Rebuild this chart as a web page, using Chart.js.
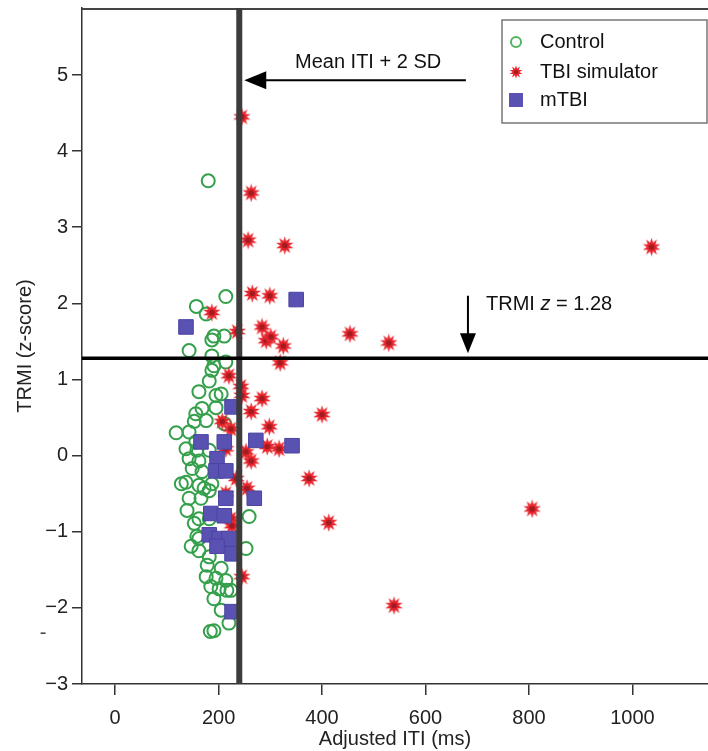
<!DOCTYPE html>
<html>
<head>
<meta charset="utf-8">
<title>TRMI vs adjusted ITI</title>
<script src="https://cdn.jsdelivr.net/npm/chart.js@4.4.0/dist/chart.umd.min.js"></script>
<style>
  html, body { margin: 0; padding: 0; background: #fff; }
</style>
</head>
<body>
<canvas id="myChart" width="708" height="751"></canvas>
<script>
'use strict';

var FONT = '"Liberation Sans", Arial, Helvetica, sans-serif';

// axis ticks
var xTicks = [0, 200, 400, 600, 800, 1000];
var yTicks = [-3, -2, -1, 0, 1, 2, 3, 4, 5];
var seriesNames = ['Control', 'TBI simulator', 'mTBI'];

// cut-offs
var itiCutoff = 240;   // mean ITI + 2 SD
var trmiCutoff = 1.28; // TRMI z

// [adjusted ITI (ms), TRMI z-score]
var controlPoints = [
    [180, 3.61], [214, 2.09], [157, 1.96], [176, 1.86], [191, 1.57], [211, 1.57],
    [187, 1.52], [143, 1.38], [187, 1.31], [214, 1.23], [191, 1.18], [187, 1.12],
    [182, 0.98], [162, 0.84], [195, 0.79], [205, 0.81], [168, 0.62], [195, 0.63],
    [156, 0.55], [153, 0.45], [176, 0.46], [211, 0.42], [118, 0.30], [143, 0.31],
    [156, 0.18], [137, 0.09], [158, 0.07], [182, 0.07], [143, -0.04], [162, -0.07],
    [149, -0.17], [168, -0.21], [137, -0.35], [128, -0.37], [162, -0.39], [187, -0.37],
    [172, -0.43], [182, -0.46], [143, -0.56], [166, -0.56], [139, -0.72], [162, -0.83],
    [182, -0.83], [153, -0.89], [259, -0.80], [158, -1.06], [162, -1.09], [147, -1.19],
    [253, -1.22], [162, -1.25], [182, -1.33], [178, -1.44], [205, -1.48], [176, -1.59],
    [195, -1.61], [214, -1.64], [185, -1.72], [201, -1.75], [216, -1.77], [224, -1.77],
    [191, -1.88], [205, -2.03], [220, -2.20], [191, -2.30], [184, -2.31]
];

var simulatorPoints = [
    [245, 4.45], [263, 3.45], [257, 2.83], [328, 2.76], [1037, 2.74], [265, 2.13],
    [299, 2.10], [187, 1.88], [236, 1.63], [284, 1.69], [292, 1.51], [301, 1.56],
    [325, 1.44], [454, 1.60], [529, 1.48], [319, 1.22], [220, 1.05], [243, 0.91],
    [245, 0.79], [284, 0.75], [263, 0.58], [207, 0.45], [224, 0.35], [298, 0.38],
    [400, 0.54], [317, 0.09], [294, 0.12], [214, 0.09], [253, 0.05], [263, -0.07],
    [234, -0.30], [255, -0.43], [214, -0.50], [224, -0.83], [226, -0.92], [245, -1.59],
    [375, -0.30], [413, -0.88], [806, -0.70], [539, -1.97]
];

var mtbiPoints = [
    [137, 1.69], [350, 2.05], [226, 0.64], [166, 0.18], [211, 0.18], [272, 0.20],
    [342, 0.13], [197, -0.04], [195, -0.20], [214, -0.20], [214, -0.56], [269, -0.56],
    [185, -0.76], [211, -0.79], [182, -1.04], [201, -1.09], [220, -1.09], [197, -1.19],
    [226, -1.29], [226, -2.05]
];

function makeStar(d) {
    var c = document.createElement('canvas');
    c.width = c.height = d;
    var g = c.getContext('2d');
    var r = d / 2, n = 10;
    g.beginPath();
    for (var i = 0; i < n * 2; i++) {
        var rad = i % 2 ? r * 0.5 : r - 0.3;
        var a = Math.PI * i / n - Math.PI / 2;
        g.lineTo(r + rad * Math.cos(a), r + rad * Math.sin(a));
    }
    g.closePath();
    g.fillStyle = '#e8262d';
    g.fill();
    g.beginPath();
    g.arc(r, r, r * 0.3, 0, Math.PI * 2);
    g.fillStyle = '#a31b22';
    g.fill();
    return c;
}

var starImg = makeStar(19);
var starSmall = makeStar(14);

function arrowHead(ctx, tx, ty, dir, len, half) {
    ctx.beginPath();
    ctx.moveTo(tx, ty);
    if (dir === 'left') {
        ctx.lineTo(tx + len, ty - half);
        ctx.lineTo(tx + len, ty + half);
    } else {
        ctx.lineTo(tx - half, ty - len);
        ctx.lineTo(tx + half, ty - len);
    }
    ctx.closePath();
    ctx.fill();
}

// cut-off lines, frame top, arrows and notes
var guides = {
    id: 'guides',
    afterDatasetsDraw: function(chart) {
        var ctx = chart.ctx, a = chart.chartArea;
        var xs = chart.scales.x, ys = chart.scales.y;
        ctx.save();

        ctx.strokeStyle = '#444';
        ctx.lineWidth = 2;
        ctx.beginPath();
        ctx.moveTo(a.left, a.top + 1);
        ctx.lineTo(a.right, a.top + 1);
        ctx.stroke();

        var vx = xs.getPixelForValue(itiCutoff);
        ctx.strokeStyle = '#3c3c3c';
        ctx.lineWidth = 6;
        ctx.beginPath();
        ctx.moveTo(vx, a.top);
        ctx.lineTo(vx, a.bottom);
        ctx.stroke();

        var hy = ys.getPixelForValue(trmiCutoff);
        ctx.strokeStyle = '#000';
        ctx.lineWidth = 3.5;
        ctx.beginPath();
        ctx.moveTo(a.left, hy);
        ctx.lineTo(a.right, hy);
        ctx.stroke();

        // arrow to the ITI line
        ctx.fillStyle = '#000';
        ctx.strokeStyle = '#000';
        ctx.lineWidth = 2;
        var ay = ys.getPixelForValue(4.93);
        var tipX = vx + 5;
        ctx.beginPath();
        ctx.moveTo(xs.getPixelForValue(678), ay);
        ctx.lineTo(tipX + 15, ay);
        ctx.stroke();
        arrowHead(ctx, tipX, ay, 'left', 22, 9);

        // arrow to the TRMI line
        var axp = xs.getPixelForValue(682);
        var tipY = hy - 5;
        ctx.beginPath();
        ctx.moveTo(axp, ys.getPixelForValue(2.1));
        ctx.lineTo(axp, tipY - 15);
        ctx.stroke();
        arrowHead(ctx, axp, tipY, 'down', 20, 8);

        ctx.fillStyle = '#111';
        ctx.font = '20px ' + FONT;
        ctx.textBaseline = 'middle';
        ctx.textAlign = 'center';
        ctx.fillText('Mean ITI + 2 SD', xs.getPixelForValue(489), ys.getPixelForValue(5.17));

        ctx.textAlign = 'left';
        var tx = xs.getPixelForValue(717), ty = ys.getPixelForValue(1.99);
        var p1 = 'TRMI ', p2 = 'z', p3 = ' = 1.28';
        ctx.fillText(p1, tx, ty);
        tx += ctx.measureText(p1).width;
        ctx.font = 'italic 20px ' + FONT;
        ctx.fillText(p2, tx, ty);
        tx += ctx.measureText(p2).width;
        ctx.font = '20px ' + FONT;
        ctx.fillText(p3, tx, ty);

        // stray dash left of the axis
        ctx.fillStyle = '#444';
        ctx.textAlign = 'center';
        ctx.fillText('-', 43, ys.getPixelForValue(-2.34));
        ctx.restore();
    }
};

var boxLegend = {
    id: 'boxLegend',
    afterDraw: function(chart) {
        var ctx = chart.ctx;
        var left = 502, top = 20, w = 205, h = 103;
        ctx.save();
        ctx.fillStyle = '#fff';
        ctx.fillRect(left, top, w, h);
        ctx.strokeStyle = '#777';
        ctx.lineWidth = 1.5;
        ctx.strokeRect(left, top, w, h);

        var rows = [42, 72, 100];
        chart.data.datasets.forEach(function(ds, i) {
            var y = rows[i], mx = 516;
            if (i === 0) {
                ctx.strokeStyle = '#52b45e';
                ctx.lineWidth = 2;
                ctx.beginPath();
                ctx.arc(mx, y, 5, 0, Math.PI * 2);
                ctx.stroke();
            } else if (i === 1) {
                ctx.drawImage(starSmall, mx - 7, y - 7);
            } else {
                ctx.fillStyle = ds.backgroundColor;
                ctx.fillRect(mx - 7, y - 7, 14, 14);
            }
            ctx.fillStyle = '#111';
            ctx.font = '20px ' + FONT;
            ctx.textAlign = 'left';
            ctx.textBaseline = 'middle';
            ctx.fillText(ds.label, 540, y);
        });
        ctx.restore();
    }
};

var ctx = document.getElementById('myChart').getContext('2d');
var myChart = new Chart(ctx, {
    type: 'scatter',
    data: {
        datasets: [{
            label: seriesNames[0],
            data: controlPoints,
            pointStyle: 'circle',
            pointRadius: 6.5,
            borderWidth: 2,
            borderColor: '#35a04b',
            backgroundColor: 'rgba(0,0,0,0)',
            order: 3
        }, {
            label: seriesNames[1],
            data: simulatorPoints,
            pointStyle: starImg,
            pointRadius: 9,
            backgroundColor: '#e8262d',
            borderColor: '#e8262d',
            order: 2
        }, {
            label: seriesNames[2],
            data: mtbiPoints,
            pointStyle: 'rect',
            pointRadius: 10.3,
            borderWidth: 1,
            borderColor: '#4b44a3',
            backgroundColor: '#5a52b2',
            order: 1
        }]
    },
    options: {
        responsive: false,
        animation: false,
        devicePixelRatio: 1,
        events: [],
        layout: {autoPadding: false, padding: {top: 8, right: 0, bottom: 0, left: 0}},
        plugins: {
            legend: {display: false},
            tooltip: {enabled: false}
        },
        scales: {
            x: {
                type: 'linear',
                min: -64,
                max: 1146,
                afterBuildTicks: function(s) {
                    s.ticks = xTicks.map(function(v) { return {value: v}; });
                },
                afterFit: function(s) {
                    s.height = 67;
                    s.paddingLeft = 0;
                    s.paddingRight = 0;
                },
                grid: {drawOnChartArea: false, drawTicks: true, tickLength: 11, color: '#333', lineWidth: 1.5},
                border: {display: true, color: '#333', width: 1.5},
                ticks: {
                    color: '#222',
                    font: {family: FONT, size: 20},
                    padding: 11,
                    maxRotation: 0,
                    callback: function(v) { return String(v); }
                },
                title: {
                    display: true,
                    text: 'Adjusted ITI (ms)',
                    color: '#222',
                    font: {family: FONT, size: 20},
                    padding: {top: 0, bottom: 0}
                }
            },
            y: {
                type: 'linear',
                min: -3,
                max: 5.88,
                afterBuildTicks: function(s) {
                    s.ticks = yTicks.map(function(v) { return {value: v}; });
                },
                afterFit: function(s) {
                    s.width = 82;
                    s.paddingTop = 0;
                    s.paddingBottom = 0;
                },
                grid: {drawOnChartArea: false, drawTicks: true, tickLength: 10, color: '#333', lineWidth: 1.5},
                border: {display: true, color: '#333', width: 1.5},
                ticks: {
                    color: '#222',
                    font: {family: FONT, size: 20},
                    padding: 4,
                    callback: function(v) { return v < 0 ? '\u2212' + Math.abs(v) : String(v); }
                },
                title: {
                    display: true,
                    text: 'TRMI (z-score)',
                    color: '#222',
                    font: {family: FONT, size: 20},
                    padding: {top: 13, bottom: 0}
                }
            }
        }
    },
    plugins: [guides, boxLegend]
});
</script>
</body>
</html>
